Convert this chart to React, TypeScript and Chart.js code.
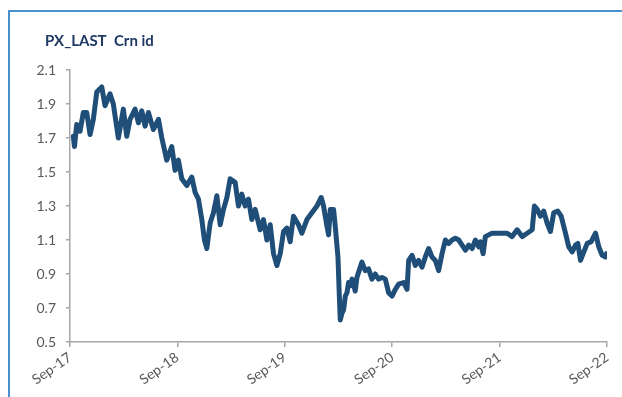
import React, { useEffect, useRef } from "react";
import { Chart, registerables } from "chart.js";

Chart.register(...registerables);

// months since Sep-2017
const months = [
  0.37, 0.5, 0.75, 1.12, 1.49, 1.87, 2.24, 2.61, 2.99, 3.55, 3.91, 4.47, 4.84, 5.4, 5.96, 6.34, 6.71, 7.27, 7.64, 8.02,
  8.39, 8.76, 9.32, 9.88, 10.26, 10.81, 11.37, 11.74, 12.11, 12.49, 13.05, 13.61, 13.98, 14.35, 14.73, 15.02, 15.29,
  15.66, 16.03, 16.41, 16.78, 17.15, 17.53, 17.89, 18.45, 18.82, 19.2, 19.57, 19.94, 20.32, 20.69, 21.25, 21.62, 22.0,
  22.37, 22.74, 23.12, 23.49, 23.86, 24.24, 24.6, 24.97, 25.53, 25.91, 26.47, 27.03, 27.59, 28.07, 28.33, 28.71, 28.89,
  29.08, 29.45, 29.64, 29.94, 30.08, 30.2, 30.39, 30.57, 30.76, 30.95, 31.12, 31.32, 31.51, 31.87, 32.06, 32.62, 32.99,
  33.36, 33.74, 34.11, 34.48, 34.86, 35.23, 35.6, 35.98, 36.35, 36.72, 37.28, 37.66, 37.84, 38.22, 38.58, 38.95, 39.33,
  39.7, 40.07, 40.45, 40.82, 41.19, 41.57, 41.94, 42.31, 42.69, 43.06, 43.43, 43.81, 44.18, 44.55, 44.93, 45.3, 45.66,
  45.85, 46.16, 46.41, 46.78, 47.16, 47.72, 48.28, 48.84, 49.4, 49.96, 50.52, 51.08, 51.64, 51.89, 52.2, 52.56, 52.93,
  53.31, 53.68, 54.05, 54.5, 54.88, 55.36, 55.73, 56.11, 56.48, 56.74, 57.04, 57.41, 57.79, 58.23, 58.72, 59.08, 59.46,
  59.83, 59.95,
];

const pxLast = [
  1.71, 1.65, 1.78, 1.74, 1.85, 1.85, 1.72, 1.81, 1.97, 2.0, 1.89, 1.96, 1.9, 1.7, 1.87, 1.71, 1.81, 1.87, 1.79, 1.86,
  1.77, 1.85, 1.75, 1.81, 1.7, 1.57, 1.65, 1.51, 1.57, 1.46, 1.42, 1.47, 1.38, 1.34, 1.22, 1.1, 1.05,
  1.2, 1.26, 1.36, 1.19, 1.28, 1.35, 1.46, 1.44, 1.3, 1.37, 1.3, 1.34, 1.22, 1.28, 1.16, 1.22, 1.1,
  1.19, 1.02, 0.95, 1.02, 1.15, 1.17, 1.09, 1.24, 1.19, 1.14, 1.22, 1.26, 1.3, 1.35, 1.3, 1.18, 1.13,
  1.28, 1.28, 1.18, 1.0, 0.79, 0.63, 0.67, 0.69, 0.77, 0.79, 0.85, 0.83, 0.87, 0.8, 0.88, 0.97, 0.92,
  0.93, 0.87, 0.9, 0.87, 0.88, 0.87, 0.79, 0.77, 0.81, 0.84, 0.85, 0.81, 0.98, 1.01, 0.95, 0.98, 0.94,
  1.0, 1.05, 1.0, 0.98, 0.92, 1.02, 1.1, 1.08, 1.1, 1.11, 1.1, 1.07, 1.04, 1.07, 1.05, 1.1, 1.06,
  1.09, 1.02, 1.12, 1.13, 1.14, 1.14, 1.14, 1.14, 1.12, 1.16, 1.12, 1.14, 1.16, 1.3, 1.28, 1.24, 1.27,
  1.2, 1.15, 1.26, 1.27, 1.24, 1.14, 1.06, 1.03, 1.07, 1.08, 0.98, 1.03, 1.08, 1.09, 1.14, 1.06, 1.01,
  1.0, 1.02,
];

const xTickLabels = ["Sep-17", "Sep-18", "Sep-19", "Sep-20", "Sep-21", "Sep-22"];
const titleText = "PX_LAST  Crn id";

export default function App() {
  const ref = useRef<HTMLCanvasElement | null>(null);

  useEffect(() => {
    if (!ref.current) return;
    const titlePlugin = {
      id: "leftTitle",
      afterDraw(chart: any) {
        const ctx = chart.ctx;
        ctx.save();
        ctx.font = "bold 15px Lato";
        ctx.fillStyle = "#1F3864";
        ctx.textBaseline = "middle";
        ctx.textAlign = "left";
        ctx.fillText(titleText, 45, 41);
        ctx.restore();
      },
    };
    const chart = new Chart(ref.current, {
      type: "line",
      data: {
        datasets: [
          {
            data: months.map((m, i) => ({ x: m, y: pxLast[i] })),
            borderColor: "#1F4E79",
            borderWidth: 5,
            pointRadius: 0,
            tension: 0,
            borderJoinStyle: "round",
            borderCapStyle: "round",
          },
        ],
      },
      options: {
        animation: false,
        responsive: false,
        layout: { padding: { top: 70, right: 15, left: 0, bottom: 0 } },
        plugins: { legend: { display: false }, tooltip: { enabled: false }, title: { display: false } },
        scales: {
          x: {
            type: "linear",
            min: 0,
            max: 60,
            afterBuildTicks: (scale: any) => {
              scale.ticks = [0, 12, 24, 36, 48, 60].map((v) => ({ value: v }));
            },
            afterFit: (scale: any) => {
              scale.height = 55;
            },
            ticks: {
              callback: (v: any) => xTickLabels[Math.round(Number(v) / 12)] ?? "",
              minRotation: 35,
              maxRotation: 35,
              color: "#595959",
              font: { family: "Lato", size: 14 },
              padding: 2,
              autoSkip: false,
            },
            grid: { drawOnChartArea: false, drawTicks: true, tickLength: 5, color: "#A6A6A6", lineWidth: 1.5 },
            border: { color: "#A6A6A6", width: 1.5 },
          },
          y: {
            min: 0.5,
            max: 2.1,
            afterFit: (scale: any) => {
              scale.width = 70;
            },
            ticks: {
              stepSize: 0.2,
              callback: (v: any) => Number(v).toFixed(1),
              color: "#595959",
              font: { family: "Lato", size: 14 },
              padding: 10,
            },
            grid: { drawOnChartArea: false, drawTicks: true, tickLength: 4, color: "#A6A6A6", lineWidth: 1.5 },
            border: { color: "#A6A6A6", width: 1.5 },
          },
        },
      },
      plugins: [titlePlugin],
    } as any);
    return () => chart.destroy();
  }, []);

  return (
    <div style={{ position: "fixed", left: 0, top: 0, width: 622, height: 397, background: "#fff", overflow: "hidden" }}>
      <div
        style={{
          position: "absolute",
          left: 8,
          top: 10,
          width: 700,
          height: 500,
          borderTop: "2px solid #4A90CF",
          borderLeft: "2px solid #4A90CF",
        }}
      />
      <canvas ref={ref} width={622} height={397} style={{ position: "absolute", left: 0, top: 0 }} />
    </div>
  );
}
